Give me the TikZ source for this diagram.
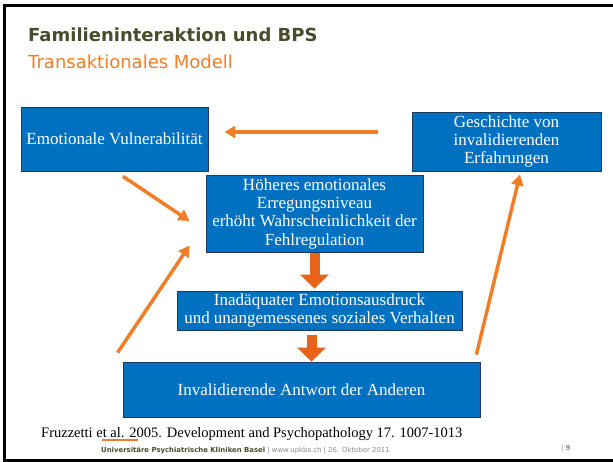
\documentclass[tikz,border=0pt]{standalone}
\usepackage{fontspec}
\setmainfont{Liberation Serif}
\setsansfont{DejaVu Sans}
\usepackage{tikz}
\usetikzlibrary{arrows.meta,positioning}
\definecolor{boxblue}{HTML}{0070C0}
\definecolor{boxline}{HTML}{1F3A5F}
\definecolor{upkorange}{HTML}{F07D28}
\definecolor{darkorange}{HTML}{E8621A}
\definecolor{upkolive}{HTML}{4A4A2C}
\definecolor{footgray}{HTML}{8A8A8A}
\tikzstyle{block}=[draw=boxline, fill=boxblue, text=white, align=center, inner sep=0pt, line width=0.8pt]
\tikzstyle{label}=[anchor=base west, inner sep=0pt]
\tikzstyle{link}=[->, upkorange, line width=3.5pt]
\tikzstyle{bigarrow}=[-{Triangle[length=14pt,width=28pt]}, darkorange, line width=10pt]

\begin{document}
\begin{tikzpicture}[x=1pt,y=-1pt,>={Triangle[length=11pt,width=12pt]},font=\fontsize{17}{18.3}\selectfont]
        \useasboundingbox (0,0) rectangle (613,461);
        \fill[white] (0,0) rectangle (613,461);
        \draw[line width=3pt] (620,5) -- (4,5) -- (4,460) -- (620,460);
        \node [label, font=\sffamily\bfseries\fontsize{18}{20}\selectfont, text=upkolive] (title) at (28,41) {Familieninteraktion und BPS};
        \node [label, font=\sffamily\fontsize{18}{20}\selectfont, text=upkorange] (subtitle) at (28,68) {Transaktionales Modell};
        \node [block, minimum width=187pt, minimum height=64pt] (vul) at (114.5,139) {Emotionale Vulnerabilität};
        \node [block, minimum width=189pt, minimum height=59pt] (hist) at (506.5,141.5) {Geschichte von\\invalidierenden\\Erfahrungen};
        \node [block, minimum width=217pt, minimum height=77pt] (arousal) at (314.5,213.5) {Höheres emotionales\\Erregungsniveau\\erhöht Wahrscheinlichkeit der\\Fehlregulation};
        \node [block, minimum width=285pt, minimum height=39pt] (expr) at (319.5,310.5) {Inadäquater Emotionsausdruck\\und unangemessenes soziales Verhalten};
        \node [block, minimum width=357pt, minimum height=55pt] (resp) at (301.5,389.5) {Invalidierende Antwort der Anderen};
        \path[link]
        ([xshift=-34pt,yshift=9.5pt]hist.west) edge ([xshift=16pt,yshift=7pt]vul.east)
        ([xshift=8.5pt,yshift=-5pt]vul.south) edge ([xshift=-16pt,yshift=-7.5pt]arousal.west)
        ([xshift=-5pt,yshift=9pt]resp.north west) edge ([xshift=-16pt,yshift=7pt]arousal.south west)
        ([xshift=-4pt,yshift=7pt]resp.north east) edge ([xshift=13.5pt,yshift=-3pt]hist.south);
        \draw[bigarrow] ([yshift=-1pt]arousal.south) -- ([yshift=2pt]arousal.south |- expr.north);
        \draw[bigarrow] ([xshift=-8pt,yshift=-5pt]expr.south) -- ([xshift=-8pt]expr.south |- resp.north);
        \node [label, font=\fontsize{14.5}{16}\selectfont] (cite) at (41,437) {Fruzzetti et al. 2005. Development and Psychopathology 17. 1007-1013};
        \draw[upkorange, line width=1.3pt] ([xshift=61pt,yshift=-3pt]cite.base west) -- ([xshift=97pt,yshift=-3pt]cite.base west);
        \node [label, font=\sffamily\fontsize{6.9}{8}\selectfont, text=footgray] (foot) at (101,452) {\textcolor{upkolive}{\bfseries Universitäre Psychiatrische Kliniken Basel} | www.upkbs.ch | 26. Oktober 2011};
        \node [label, font=\sffamily\fontsize{6.9}{8}\selectfont, text=footgray] (page) at (561,450) {| \textbf{9}};
    \end{tikzpicture}
\end{document}
